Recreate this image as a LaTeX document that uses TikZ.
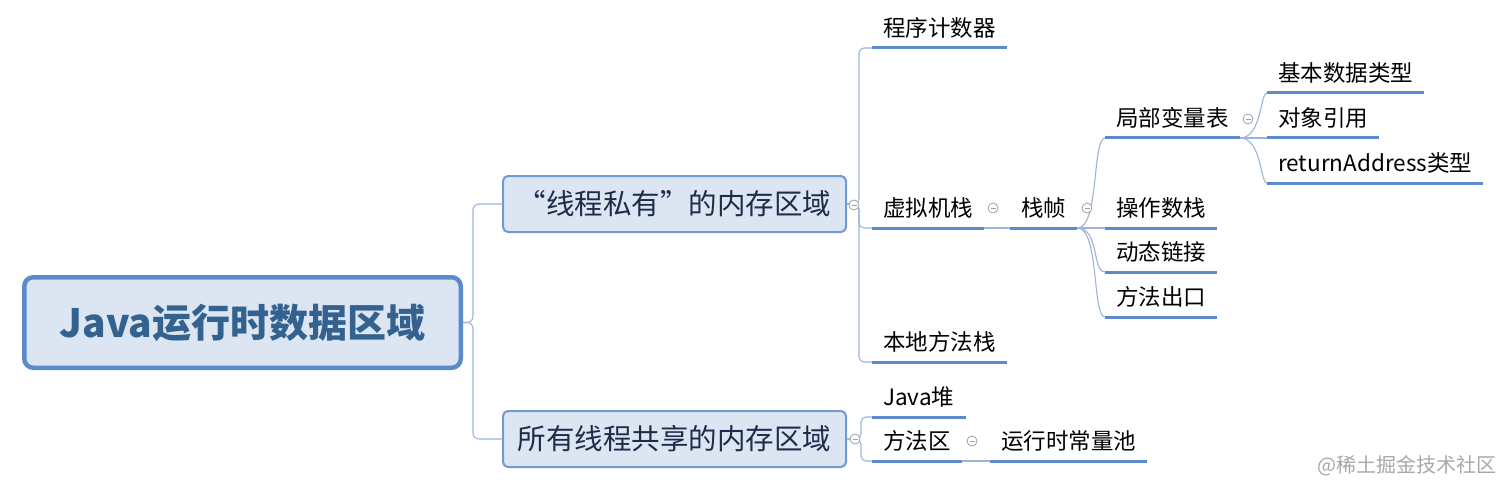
\documentclass[tikz,border=0pt]{standalone}
\usepackage{fontspec}
\setmainfont{Noto Sans CJK SC}
\definecolor{rootborder}{HTML}{5B8BC9}
\definecolor{boxfill}{HTML}{DCE6F2}
\definecolor{titlec}{HTML}{34628F}
\definecolor{boxc}{HTML}{6F9AD3}
\definecolor{lvtext}{HTML}{1C2D4A}
\definecolor{ulc}{HTML}{5B8BCB}
\definecolor{connc}{HTML}{9DB5D8}
\definecolor{foldc}{HTML}{A0A0A0}
\definecolor{wmc}{HTML}{A8A8A8}
\begin{document}
\begin{tikzpicture}[x=1pt,y=-1pt,
  conn/.style={draw=connc, line width=1.1pt},
  uline/.style={draw=ulc, line width=3pt},
  topic/.style={font=\fontsize{22.5}{22.5}\selectfont, text=black, inner xsep=11pt, inner ysep=0pt, text height=14pt, text depth=11.5pt, anchor=south west},
  lvone/.style={draw=boxc, line width=2pt, fill=boxfill, rounded corners=5pt, minimum width=343pt, minimum height=56pt, inner sep=0pt, font=\fontsize{28.5}{28.5}\selectfont, text=lvtext},
  rootbox/.style={draw=rootborder, line width=4.5pt, fill=boxfill, rounded corners=9pt, minimum width=436.5pt, minimum height=90.5pt, inner sep=0pt, font=\fontsize{39}{39}\selectfont\bfseries, text=titlec},
  fold/.style={circle, draw=foldc, fill=white, line width=0.8pt, minimum size=10pt, inner sep=0pt,
    path picture={\draw[foldc, line width=0.8pt] ([xshift=-2.5pt]path picture bounding box.center) -- ([xshift=2.5pt]path picture bounding box.center);}}
]
\fill[white] (0,0) rectangle (1512,492);
\useasboundingbox (0,0) rectangle (1512,492);

% boxes
\node[rootbox] (root) at (242.5,322.5) {Java运行时数据区域};
\node[lvone] (b1) at (674.5,204) {“线程私有”的内存区域};
\node[lvone] (b2) at (674.5,439) {所有线程共享的内存区域};

% topics
\node[topic] (pc) at (872,48) {程序计数器};
\node[topic] (vm) at (872,228) {虚拟机栈};
\node[topic] (nm) at (872,362) {本地方法栈};
\node[topic] (sf) at (1010,228) {栈帧};
\node[topic] (lv) at (1105,138) {局部变量表};
\node[topic] (op) at (1105,228) {操作数栈};
\node[topic] (dl) at (1105,272) {动态链接};
\node[topic] (me) at (1105,317) {方法出口};
\node[topic] (bt) at (1267,93) {基本数据类型};
\node[topic] (or) at (1267,138) {对象引用};
\node[topic] (ra) at (1267,183) {returnAddress类型};
\node[topic] (jh) at (872,417) {Java堆};
\node[topic] (ma) at (872,461) {方法区};
\node[topic] (rc) at (990,461) {运行时常量池};

% connectors
\draw[conn, rounded corners=6pt] (root.east) -- ++(10,0) |- (b1.west);
\draw[conn, rounded corners=6pt] (root.east) -- ++(10,0) |- (b2.west);
\draw[conn, rounded corners=5pt] (b1.east) -- ++(12,0) |- (pc.south west);
\draw[conn, rounded corners=5pt] (b1.east) -- ++(12,0) |- (vm.south west);
\draw[conn, rounded corners=5pt] (b1.east) -- ++(12,0) |- (nm.south west);
\draw[conn, rounded corners=5pt] (b2.east) -- ++(14,0) |- (jh.south west);
\draw[conn, rounded corners=5pt] (b2.east) -- ++(14,0) |- (ma.south west);
\draw[conn] (vm.south east) -- (sf.south west);
\draw[conn] (ma.south east) -- (rc.south west);
\draw[conn] (sf.south east) .. controls +(22,0) and +(-13,0) .. (lv.south west);
\draw[conn] (sf.south east) -- (op.south west);
\draw[conn] (sf.south east) .. controls +(22,0) and +(-13,0) .. (dl.south west);
\draw[conn] (sf.south east) .. controls +(22,0) and +(-13,0) .. (me.south west);
\draw[conn] (lv.south east) .. controls +(22,0) and +(-7,0) .. (bt.south west);
\draw[conn] (lv.south east) -- (or.south west);
\draw[conn] (lv.south east) .. controls +(22,0) and +(-7,0) .. (ra.south west);

% underlines
\foreach \n in {pc,vm,nm,sf,lv,op,dl,me,bt,or,ra,jh,ma,rc}
  \draw[uline] (\n.south west) -- (\n.south east);

% fold markers
\node[fold] (f1) at (854,205) {};
\node[fold] (f2) at (855,439) {};
\node[fold] (f3) at (993,208) {};
\node[fold] (f4) at (1087,208) {};
\node[fold] (f5) at (1248,119) {};
\node[fold] (f6) at (972,441) {};

% watermark
\node[anchor=east, text=wmc, font=\fontsize{20}{20}\selectfont, inner sep=0pt] (wm) at (1497,466) {@稀土掘金技术社区};
\end{tikzpicture}
\end{document}
